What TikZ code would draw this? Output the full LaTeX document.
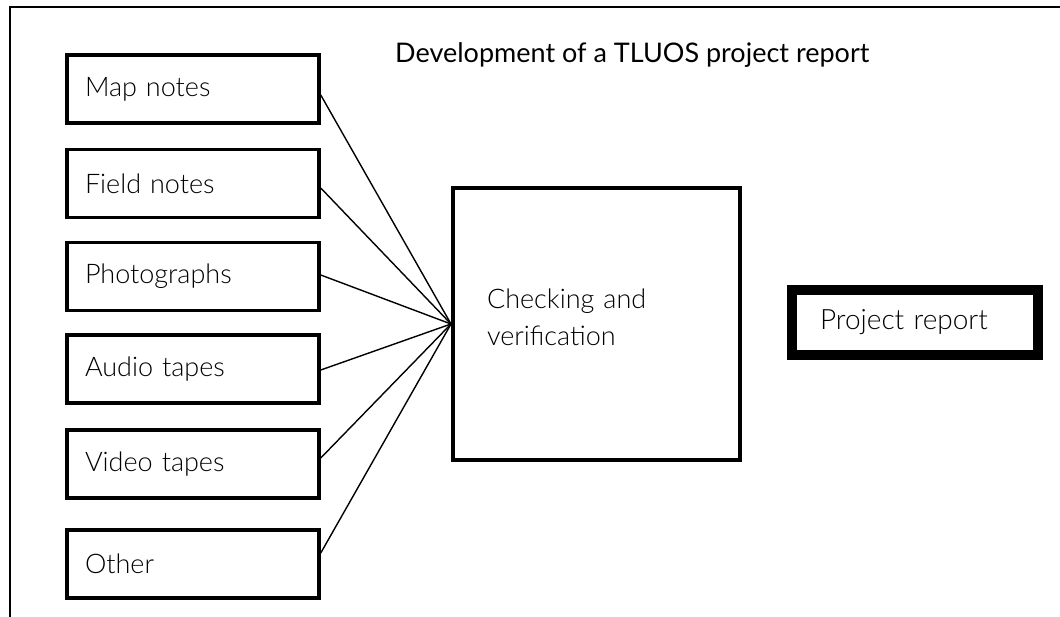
\documentclass[tikz,border=0pt]{standalone}
\usepackage{fontspec}
\setmainfont{Lato}
\newfontfamily\labelfont{Lato Light}
\begin{document}
\begin{tikzpicture}[x=1pt,y=-1pt,
  src/.style={draw, line width=3.5pt, minimum width=252pt, minimum height=68pt,
    text width=216pt, align=left, inner xsep=18pt, inner ysep=0pt,
    font=\labelfont\fontsize{27}{37}\selectfont},
  checkbox/.style={draw, line width=4pt, minimum width=287pt, minimum height=272pt,
    text width=219pt, align=left, inner xsep=34pt, inner ysep=0pt,
    font=\labelfont\fontsize{27}{37}\selectfont},
  reportbox/.style={draw, line width=10pt, minimum width=246pt, minimum height=65pt,
    text width=190pt, align=left, inner xsep=28pt, inner ysep=0pt,
    font=\labelfont\fontsize{28}{37}\selectfont},
  link/.style={line width=1.4pt},
  frame/.style={line width=2pt}]
\useasboundingbox (0,0) rectangle (1060,617);
\draw[frame] (10,617) -- (10,7) -- (1060,7);
\node[anchor=base west, font=\fontsize{27}{32}\selectfont, inner sep=0pt] (title) at (395,63) {Development of a TLUOS project report};
\node[src] (map) at (193,89) {Map notes};
\node[src] (field) at (193,183.5) {Field notes};
\node[src] (photo) at (193,276.5) {Photographs};
\node[src] (audio) at (193,369) {Audio tapes};
\node[src] (video) at (193,464) {Video tapes};
\node[src] (other) at (193,564) {Other};
\node[checkbox, text depth=50pt] (check) at (596.5,324) {Checking and\\verification};
\node[reportbox] (report) at (915,322.5) {Project report};
\draw[link] ([yshift=-6pt]map.east) -- (check.west);
\draw[link] ([yshift=-4.5pt]field.east) -- (check.west);
\draw[link] ([yshift=1.5pt]photo.east) -- (check.west);
\draw[link] ([yshift=-1pt]audio.east) -- (check.west);
\draw[link] ([yshift=6pt]video.east) -- (check.west);
\draw[link] ([yshift=11pt]other.east) -- (check.west);
\end{tikzpicture}
\end{document}
